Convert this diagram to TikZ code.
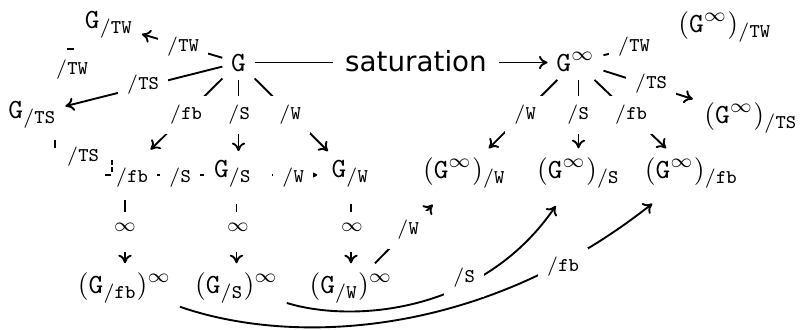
\documentclass[tikz,border=0pt]{standalone}
\usepackage[no-math]{fontspec}
\newfontfamily\satfont{DejaVu Sans}
\usepackage{amsmath,amssymb}
\usetikzlibrary{arrows.meta,positioning,calc}

\newcommand{\Gsub}[1]{\mathtt{G}_{/\mathtt{#1}}}
\newcommand{\Ginf}{\mathtt{G}^{\infty}}
\newcommand{\Lb}[1]{\scriptstyle /\mathtt{#1}}

\begin{document}
\begin{tikzpicture}[
    x=0.36pt, y=-0.36pt,
    obj/.style={anchor=base, inner sep=3pt},
    lbl/.style={fill=white, inner sep=3.2pt},
    inflbl/.style={fill=white, inner sep=3.2pt, anchor=base, text height=3.6pt, text depth=4.4pt},
    arr/.style={-{Computer Modern Rightarrow[length=3.1pt,width=4.8pt]}, line width=0.68pt},
    ln/.style={line width=0.68pt}
]
    \useasboundingbox (0,0) rectangle (802,329);

    % objects
    \node[obj] (G) at (238.5,71) {$\mathtt{G}$};
    \node[obj] (Ginf) at (575.5,71) {$\Ginf$};
    \node[obj] (GTW) at (109,28) {$\Gsub{TW}$};
    \node[obj] (GTS) at (32.5,118) {$\Gsub{TS}$};
    \node[obj] (GS) at (233,177) {$\Gsub{S}$};
    \node[obj] (GW) at (350.5,177) {$\Gsub{W}$};
    \node[obj] (GinfTW) at (725,32) {$(\Ginf)_{/\mathtt{TW}}$};
    \node[obj] (GinfTS) at (751,123) {$(\Ginf)_{/\mathtt{TS}}$};
    \node[obj] (GinfW) at (464.5,178) {$(\Ginf)_{/\mathtt{W}}$};
    \node[obj] (GinfS) at (578.5,178) {$(\Ginf)_{/\mathtt{S}}$};
    \node[obj] (GinfFb) at (691.5,178) {$(\Ginf)_{/\mathtt{fb}}$};
    \node[obj] (GFbinf) at (124.5,293) {$(\Gsub{fb})^{\infty}$};
    \node[obj] (GSinf) at (236.5,293) {$(\Gsub{S})^{\infty}$};
    \node[obj] (GWinf) at (351,293) {$(\Gsub{W})^{\infty}$};
    \coordinate (Gfb) at (125,175);

    % saturation
    \draw[arr] (G) -- (G -| Ginf.west);

    % quotients of G
    \draw[arr] (G) -- (GTW);
    \draw[arr] (G) -- (GTS);
    \draw[arr, shorten >=13pt] (G) -- (Gfb);
    \draw[arr] (G) -- (G |- GS.north);
    \draw[arr] (G) -- (GW);

    % second row
    \draw[ln, shorten >=0.5pt] (Gfb) -- (Gfb -| GS.west);
    \draw[arr, shorten <=4pt, shorten >=2pt] (GS.east |- Gfb) -- (GW.west |- Gfb);

    % saturate again
    \draw[arr, shorten <=9pt] (Gfb) -- (Gfb |- GFbinf.north);
    \draw[arr, shorten <=3pt] (GSinf.north |- GS.south) -- (GSinf.north);
    \draw[arr, shorten <=3pt] (GWinf.north |- GW.south) -- (GWinf.north);

    % quotients of G^infty
    \draw[arr, shorten >=4pt] (Ginf) -- (GinfTW);
    \draw[arr, shorten >=1pt] (Ginf) -- (GinfTS);
    \draw[arr] (Ginf) -- (GinfW);
    \draw[arr] (GinfS.north |- Ginf.south) -- (GinfS.north);
    \draw[arr] (Ginf) -- (GinfFb);

    % comparison maps
    \draw[arr, shorten >=4pt] (GWinf) -- (GinfW);
    \draw[arr, shorten >=4pt] (GSinf) .. controls (352,323) and (482,314) .. (GinfS);
    \draw[arr, shorten >=4pt] (GFbinf) .. controls (290,345) and (480,340) .. (GinfFb);

    % labels
    \node[lbl, font=\satfont, inner ysep=3pt, inner xsep=4.5pt, anchor=base] (lsat) at (416,71) {saturation};
    \node[lbl] (lTW) at (183,47) {$\Lb{TW}$};
    \node[lbl] (lTS) at (143,85) {$\Lb{TS}$};
    \node[lbl] (lfb) at (186,115) {$\Lb{fb}$};
    \node[lbl] (lS) at (239,115) {$\Lb{S}$};
    \node[lbl] (lW) at (290,115) {$\Lb{W}$};
    \node[lbl] (lTWb) at (72,70) {$\Lb{TW}$};
    \node[lbl] (lTSb) at (83,157) {$\Lb{TS}$};
    \node[lbl] (lfbr) at (132,178) {$\Lb{fb}$};
    \node[lbl] (lSr) at (180,178) {$\Lb{S}$};
    \node[lbl] (lWr) at (293,178) {$\Lb{W}$};
    \node[inflbl] (linfa) at (125,231) {$\scriptstyle\infty$};
    \node[inflbl] (linfb) at (238,231) {$\scriptstyle\infty$};
    \node[inflbl] (linfc) at (352,231) {$\scriptstyle\infty$};
    \node[lbl] (rTW) at (634,47) {$\Lb{TW}$};
    \node[lbl] (rTS) at (651,84) {$\Lb{TS}$};
    \node[lbl] (rW) at (525,115) {$\Lb{W}$};
    \node[lbl] (rS) at (578,115) {$\Lb{S}$};
    \node[lbl] (rfb) at (631,115) {$\Lb{fb}$};
    \node[lbl] (cW) at (408,230) {$\Lb{W}$};
    \node[lbl] (cS) at (464,278) {$\Lb{S}$};
    \node[lbl] (cfb) at (563,267) {$\Lb{fb}$};

    % bits of hidden arrows
    \draw[ln] (67,49) -- (74,49);
    \draw[ln] (55,140) -- (55,148);
    \draw[ln] (112,160) -- (112,165) (112,167) -- (112,172);
    \draw[ln] (105,175) -- (111,175);
\end{tikzpicture}
\end{document}
